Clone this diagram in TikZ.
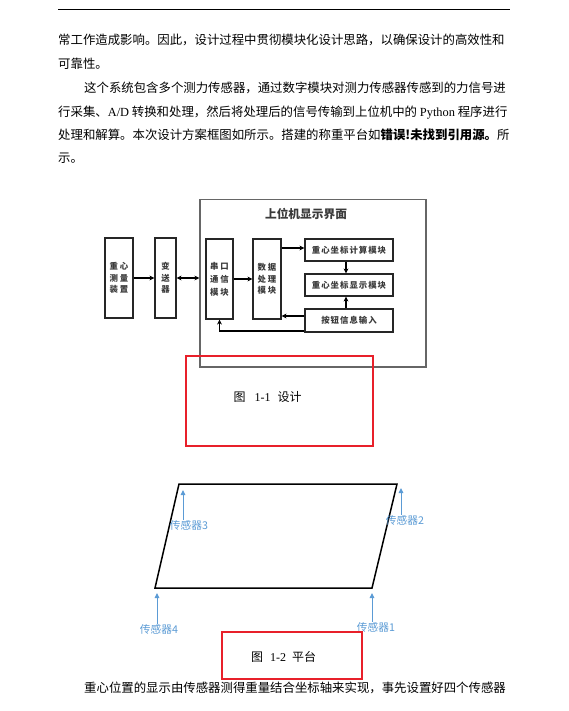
\documentclass[tikz,border=0pt]{standalone}
\usepackage{fontspec}
\setmainfont{Noto Sans CJK SC}
\newfontfamily\lat{Liberation Serif}
\newfontfamily\boxfont[LetterSpace=12]{Noto Sans CJK SC}
\usetikzlibrary{arrows.meta,calc}
\definecolor{redbox}{HTML}{E8202A}
\definecolor{blueA}{HTML}{5B9BD5}
\definecolor{boxtext}{HTML}{3A3A3A}
\definecolor{frame}{HTML}{666666}
\tikzset{
 body/.style={anchor=base west, inner sep=0pt, font=\fontsize{12.4}{14}\selectfont},
 captext/.style={inner sep=0pt, font=\fontsize{12}{14}\selectfont},
 blk/.style={draw=black!85, line width=1.1pt, inner sep=0pt, text=boxtext, font=\boxfont\bfseries\fontsize{8.4}{11.5}\selectfont, align=center},
 arr/.style={line width=1.2pt, -{Stealth[length=5pt,width=4.8pt]}},
 darr/.style={line width=1.2pt, {Stealth[length=5pt,width=4.8pt]}-{Stealth[length=5pt,width=4.8pt]}},
 redframe/.style={draw=redbox, line width=2pt, inner sep=0pt},
 sens/.style={text=blueA, inner sep=0pt, font=\fontsize{10.7}{12}\selectfont},
 barr/.style={draw=blueA, line width=1pt, -{Triangle[length=5pt,width=4.5pt]}},
}
\newcommand{\tw}[2]{#1\hspace{1.8pt}#2}
\begin{document}
\begin{tikzpicture}[x=1pt,y=-1pt]
\useasboundingbox (0,0) rectangle (568,711);
\fill[white] (0,0) rectangle (568,711);
\draw[line width=1pt] (58,10) -- (510,10);
% body text
\node[body] (t1) at (58,45) {常工作造成影响。因此，设计过程中贯彻模块化设计思路，以确保设计的高效性和};
\node[body] (t2) at (58,68.2) {可靠性。};
\node[body] (t3) at (84,92.5) {这个系统包含多个测力传感器，通过数字模块对测力传感器传感到的力信号进};
\node[body] (t4) at (58,116.5) {行采集、{\lat A/D} 转换和处理，然后将处理后的信号传输到上位机中的 {\lat Python} 程序进行};
\node[body] (t5) at (58,139.5) {处理和解算。本次设计方案框图如所示。搭建的称重平台如\textbf{错误!未找到引用源。}所};
\node[body] (t6) at (58,163) {示。};
% figure 1-1
\node[draw=frame, line width=1.3pt, minimum width=226pt, minimum height=167.5pt, inner sep=0pt] (outer) at (313,283.25) {};
\node[font=\fontsize{11.7}{13}\selectfont\bfseries, text=boxtext, inner sep=0pt] (title) at (306,214) {上位机显示界面};
\node[blk, minimum width=28pt, minimum height=80pt] (meas) at (119,278) {\tw{重}{心}\\\tw{测}{量}\\\tw{装}{置}};
\node[blk, minimum width=21pt, minimum height=80pt] (trans) at (165.5,278) {变\\送\\器};
\node[blk, minimum width=27pt, minimum height=80pt] (serial) at (219.5,279) {\tw{串}{口}\\[1.5pt]\tw{通}{信}\\[1.5pt]\tw{模}{块}};
\node[blk, minimum width=28pt, minimum height=80pt] (data) at (267,279) {\tw{数}{据}\\\tw{处}{理}\\\tw{模}{块}};
\node[blk, minimum width=88pt, minimum height=22pt] (calc) at (349,250) {重心坐标计算模块};
\node[blk, minimum width=88pt, minimum height=22pt] (disp) at (349,285) {重心坐标显示模块};
\node[blk, minimum width=88pt, minimum height=23pt] (btn) at (349,320.5) {按钮信息输入};
\draw[arr] (meas.east) -- (trans.west);
\draw[darr] (trans.east) -- (trans.east -| outer.west);
\draw[arr] (serial.east) -- (data.west);
\coordinate (dc) at ($(calc.west)+(0,-2)$);
\draw[arr] (dc -| data.east) -- (dc);
\draw[arr] ($(calc.south)+(-3,0)$) -- ($(disp.north)+(-3,0)$);
\draw[arr] ($(btn.north)+(-3,0)$) -- ($(disp.south)+(-3,0)$);
\coordinate (bd) at ($(btn.west)+(0,-4.5)$);
\draw[arr] (bd) -- (bd -| data.east);
\coordinate (bs) at ($(btn.south west)+(0,-1.5)$);
\draw[arr] (bs) -| (serial.south);
\node[redframe, minimum width=187pt, minimum height=90pt] (rb1) at (279.5,401) {};
\node[captext] (cap1) at (267.5,397) {图\hspace{9pt}{\lat 1-1}\hspace{7pt}设计};
% figure 1-2
\coordinate (p1) at (179,484);
\coordinate (p2) at (397,484);
\coordinate (p3) at (372,588);
\coordinate (p4) at (155,588);
\draw[line width=1.5pt] (p1) -- (p2) -- (p3) -- (p4) -- cycle;
\node[sens] (s3) at (189,525) {传感器3};
\node[sens] (s2) at (405,520) {传感器2};
\node[sens] (s4) at (159,629) {传感器4};
\node[sens] (s1) at (376,627) {传感器1};
\coordinate (a3) at (183,490); \draw[barr] (a3 |- s3.north) -- (a3);
\coordinate (a2) at (401,488); \draw[barr] (a2 |- s2.north) -- (a2);
\coordinate (a4) at (157,593); \draw[barr] (a4 |- s4.north) -- (a4);
\coordinate (a1) at (372,593); \draw[barr] (a1 |- s1.north) -- (a1);
\node[redframe, minimum width=140pt, minimum height=47pt] (rb2) at (292,655.5) {};
\node[captext] (cap2) at (283.5,657) {图\hspace{7pt}{\lat 1-2}\hspace{6pt}平台};
\node[body] (t7) at (84,692.5) {重心位置的显示由传感器测得重量结合坐标轴来实现，事先设置好四个传感器};
\end{tikzpicture}
\end{document}
